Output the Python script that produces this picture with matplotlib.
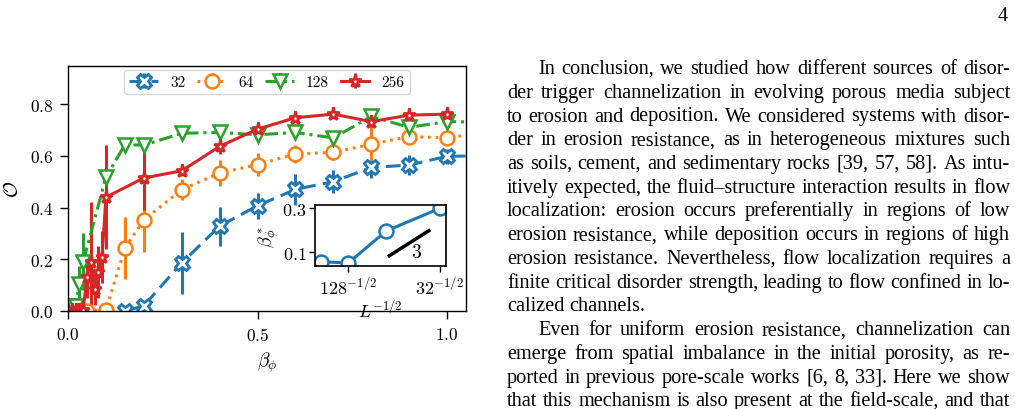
import matplotlib
matplotlib.use('Agg')
import matplotlib.pyplot as plt
import numpy as np

plt.rcParams['font.family'] = 'serif'
plt.rcParams['font.serif'] = ['cmr10']
plt.rcParams['mathtext.fontset'] = 'cm'
plt.rcParams['axes.formatter.use_mathtext'] = True
plt.rcParams['axes.unicode_minus'] = False

W, H = 1015, 410

# ---------------- data ----------------
labels = ['32', '64', '128', '256']

beta_32 = [0.15, 0.2, 0.3, 0.4, 0.5, 0.6, 0.7, 0.8, 0.9, 1.0, 1.1]
O_32 = [0.0, 0.02, 0.186, 0.328, 0.407, 0.47, 0.50, 0.555, 0.564, 0.598, 0.60]
err_32 = [0.005, 0.01, 0.12, 0.075, 0.05, 0.06, 0.045, 0.04, 0.04, 0.03, 0.03]

beta_64 = [0.05, 0.1, 0.15, 0.2, 0.3, 0.4, 0.5, 0.6, 0.7, 0.8, 0.9, 1.0, 1.1]
O_64 = [0.0, 0.003, 0.243, 0.352, 0.469, 0.533, 0.566, 0.607, 0.613, 0.645, 0.674, 0.669, 0.69]
err_64 = [0.005, 0.005, 0.12, 0.125, 0.04, 0.05, 0.045, 0.035, 0.03, 0.065, 0.03, 0.02, 0.02]

beta_128 = [0.0, 0.01, 0.02, 0.03, 0.04, 0.1, 0.15, 0.2, 0.3, 0.4, 0.5, 0.6, 0.7, 0.8, 0.9, 1.0, 1.1]
O_128 = [0.02, 0.02, 0.02, 0.105, 0.19, 0.517, 0.643, 0.641, 0.687, 0.69, 0.681, 0.69, 0.669, 0.752, 0.71, 0.732, 0.73]
err_128 = [0.01, 0.01, 0.01, 0.07, 0.11, 0.03, 0.015, 0.015, 0.015, 0.015, 0.015, 0.02, 0.02, 0.02, 0.02, 0.015, 0.015]

beta_256 = [0.0, 0.01, 0.02, 0.03, 0.04, 0.05, 0.06, 0.07, 0.08, 0.09, 0.1,
            0.2, 0.3, 0.4, 0.5, 0.6, 0.7, 0.8, 0.9, 1.0]
O_256 = [0.005, 0.005, 0.005, 0.005, 0.005, 0.13, 0.19, 0.085, 0.15, 0.21, 0.44,
         0.514, 0.542, 0.636, 0.703, 0.747, 0.761, 0.732, 0.757, 0.761]
err_256 = [0.01, 0.01, 0.01, 0.01, 0.01, 0.08, 0.23, 0.06, 0.1, 0.1, 0.2,
           0.123, 0.015, 0.03, 0.02, 0.015, 0.015, 0.02, 0.015, 0.015]

# inset
L_sizes = [256, 128, 64, 32]
beta_star = [0.057, 0.051, 0.197, 0.30]
inset_xticks_L = [128, 32]
slope_value = 3
slope_x = [0.128, 0.166]
slope_y0 = 0.084
slope_label_xy = (0.1537, 0.101)

# body text
page_number = '4'
text_lines = [
    ("In conclusion, we studied how different sources of disor-", True, True),
    ("der trigger channelization in evolving porous media subject", False, True),
    ("to erosion and deposition. We considered systems with disor-", False, True),
    ("der in erosion resistance, as in heterogeneous mixtures such", False, True),
    ("as soils, cement, and sedimentary rocks [39, 57, 58]. As intu-", False, True),
    ("itively expected, the fluid\u2013structure interaction results in flow", False, True),
    ("localization: erosion occurs preferentially in regions of low", False, True),
    ("erosion resistance, while deposition occurs in regions of high", False, True),
    ("erosion resistance. Nevertheless, flow localization requires a", False, True),
    ("finite critical disorder strength, leading to flow confined in lo-", False, True),
    ("calized channels.", False, False),
    ("Even for uniform erosion resistance, channelization can", True, True),
    ("emerge from spatial imbalance in the initial porosity, as re-", False, True),
    ("ported in previous pore-scale works [6, 8, 33]. Here we show", False, True),
    ("that this mechanism is also present at the field-scale, and that", False, True),
]

# ---------------- figure ----------------
fig = plt.figure(figsize=(W / 100, H / 100), dpi=100)
ax = fig.add_axes([68 / W, 1 - 312 / H, (466 - 68) / W, (312 - 67) / H])

lw = 2.2
series = [
    (beta_32, O_32, err_32, 'tab:blue', 'X', (0, (4.8, 2.4)), 10.5, 2.0),
    (beta_64, O_64, err_64, 'tab:orange', 'o', (0, (0.9, 1.6)), 10.0, 1.8),
    (beta_128, O_128, err_128, 'tab:green', 'v', (0, (4.5, 1.6, 1.0, 1.6)), 10.5, 1.8),
    (beta_256, O_256, err_256, 'tab:red', '*', '-', 9.5, 2.0),
]
handles = []
for (bx, by, be, c, m, ls, ms, mew), lab in zip(series, labels):
    cont = ax.errorbar(bx, by, yerr=be, color=c, marker=m, ls=ls, lw=lw,
                       ms=ms, mfc='white', mec=c, mew=mew, elinewidth=lw,
                       capsize=0, label=lab)
    handles.append(cont)

ax.set_xlim(0, 1.05)
ax.set_ylim(0, 0.947)
ax.set_xticks([0.0, 0.5, 1.0])
ax.set_yticks([0.0, 0.2, 0.4, 0.6, 0.8])
ax.tick_params(labelsize=12.5, direction='out', length=5.5, width=1, pad=5)
for s in ax.spines.values():
    s.set_linewidth(1.0)
ax.set_xlabel(r'$\beta_\phi$', fontsize=14, labelpad=5)
ax.set_ylabel(r'$\mathcal{O}$', fontsize=14, labelpad=6)

leg = ax.legend(handles=handles, labels=labels, loc='upper center', ncol=4,
                fontsize=11, handlelength=1.85, columnspacing=0.8,
                handletextpad=0.8, borderpad=0.35, borderaxespad=0.25,
                framealpha=0.8)

# ---------------- inset ----------------
ins = fig.add_axes([315 / W, 1 - 267.3 / H, (446 - 315) / W, (267.3 - 206) / H])
Lx = [Lv ** -0.5 for Lv in L_sizes]
ins.plot(Lx, beta_star, color='tab:blue', marker='o', ms=10, mfc='white',
         mec='tab:blue', mew=1.8, lw=lw)
sx = np.array(slope_x)
ins.plot(sx, slope_y0 + slope_value * (sx - sx[0]), color='black', lw=2.5)
ins.text(slope_label_xy[0], slope_label_xy[1], str(slope_value), fontsize=14,
         ha='center', va='center')
ins.set_xlim(0.0563, 0.1826)
ins.set_ylim(0.036, 0.315)
ins.set_xticks([Lv ** -0.5 for Lv in inset_xticks_L])
ins.set_xticklabels([r'$%d^{-1/2}$' % Lv for Lv in inset_xticks_L])
ins.set_yticks([0.1, 0.3])
ins.tick_params(labelsize=13, direction='out', length=4, width=1, pad=2)
for s in ins.spines.values():
    s.set_linewidth(1.2)
ins.set_xlabel(r'$L^{-1/2}$', fontsize=13, labelpad=0)
ins.set_ylabel(r'$\beta^*_\phi$', fontsize=13, labelpad=1)

# ---------------- body text ----------------
renderer = fig.canvas.get_renderer()
tfont = dict(family='Liberation Serif', fontsize=14.6, va='baseline', ha='left')
left_edge, right_edge, indent_px = 507.0, 1010.0, 31.0
base0, step = 74.0, 23.75
for i, (line, indent, justify) in enumerate(text_lines):
    words = line.split(' ')
    objs = [fig.text(0, 0, w_, **tfont) for w_ in words]
    widths = [o.get_window_extent(renderer).width for o in objs]
    x0 = left_edge + (indent_px if indent else 0)
    if justify and len(words) > 1:
        gap = (right_edge - x0 - sum(widths)) / (len(words) - 1)
    else:
        sp = fig.text(0, 0, 'a a', **tfont)
        sp2 = fig.text(0, 0, 'aa', **tfont)
        gap = sp.get_window_extent(renderer).width - sp2.get_window_extent(renderer).width
        sp.remove(); sp2.remove()
    yb = base0 + step * i
    x = x0
    for o, wd in zip(objs, widths):
        o.set_position((x / W, 1 - yb / H))
        x += wd + gap

fig.text(1008 / W, 1 - 21 / H, page_number, family='Liberation Serif',
         fontsize=14.6, ha='right', va='baseline')

fig.savefig('out.png', dpi=100)
